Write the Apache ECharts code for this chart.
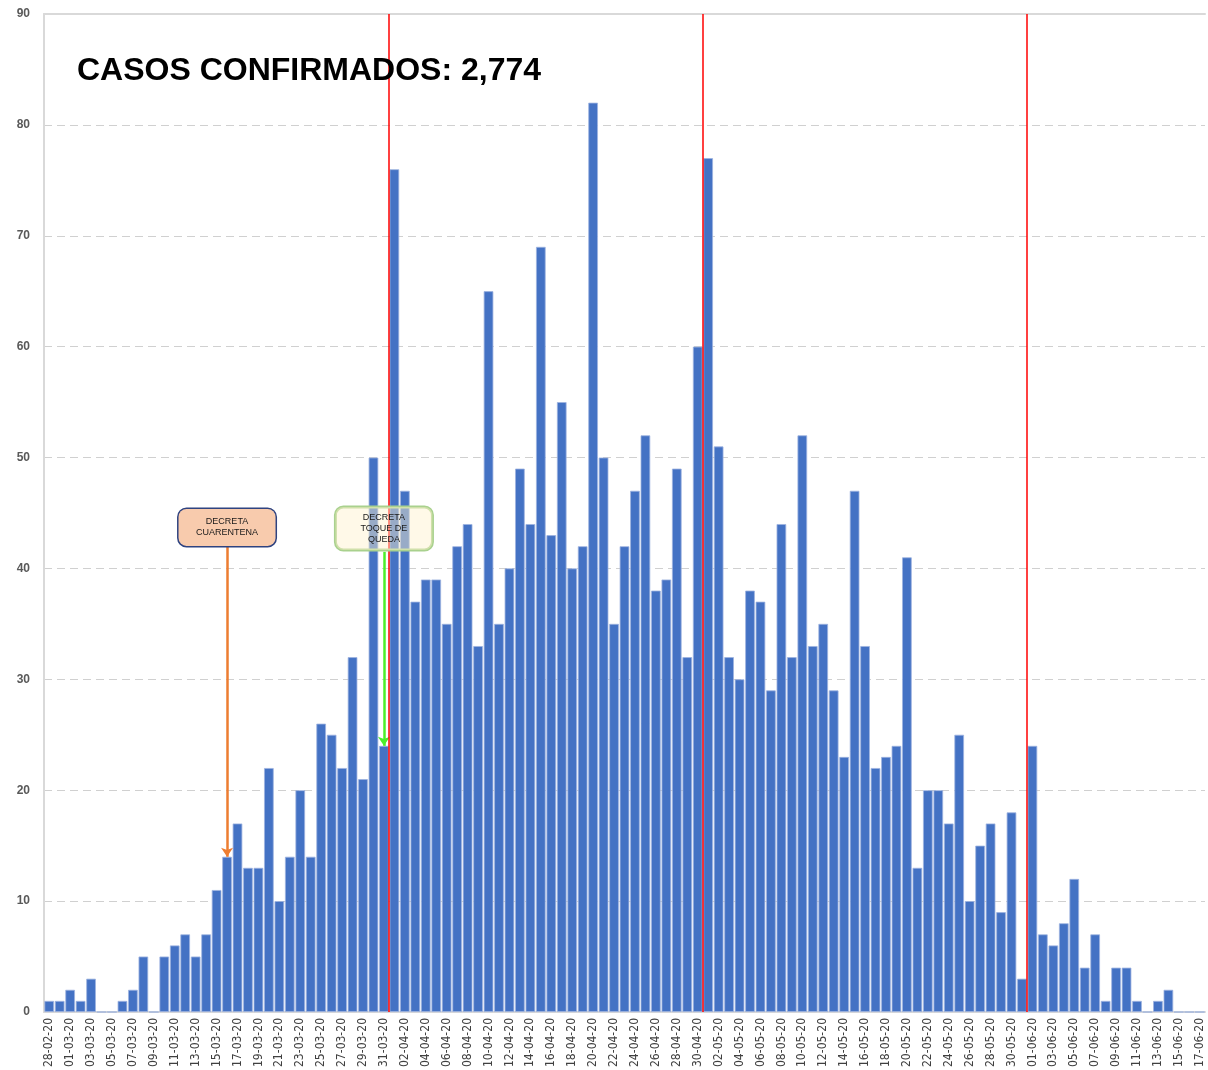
<!DOCTYPE html>
<html>
<head>
<meta charset="utf-8">
<script src="https://cdn.jsdelivr.net/npm/echarts@6/dist/echarts.min.js"></script>
<style>
    html, body { margin: 0; padding: 0; background: #fff; }
    #main { width: 1208px; height: 1070px; }
</style>
</head>
<body>
<div id="main"></div>
<script type="text/javascript">
    // fechas (28-02-20 .. 17-06-20)
    const fechas = [
        '28-02-20','29-02-20',
        '01-03-20','02-03-20','03-03-20','04-03-20','05-03-20','06-03-20','07-03-20','08-03-20','09-03-20','10-03-20',
        '11-03-20','12-03-20','13-03-20','14-03-20','15-03-20','16-03-20','17-03-20','18-03-20','19-03-20','20-03-20',
        '21-03-20','22-03-20','23-03-20','24-03-20','25-03-20','26-03-20','27-03-20','28-03-20','29-03-20','30-03-20','31-03-20',
        '01-04-20','02-04-20','03-04-20','04-04-20','05-04-20','06-04-20','07-04-20','08-04-20','09-04-20','10-04-20',
        '11-04-20','12-04-20','13-04-20','14-04-20','15-04-20','16-04-20','17-04-20','18-04-20','19-04-20','20-04-20',
        '21-04-20','22-04-20','23-04-20','24-04-20','25-04-20','26-04-20','27-04-20','28-04-20','29-04-20','30-04-20',
        '01-05-20','02-05-20','03-05-20','04-05-20','05-05-20','06-05-20','07-05-20','08-05-20','09-05-20','10-05-20',
        '11-05-20','12-05-20','13-05-20','14-05-20','15-05-20','16-05-20','17-05-20','18-05-20','19-05-20','20-05-20',
        '21-05-20','22-05-20','23-05-20','24-05-20','25-05-20','26-05-20','27-05-20','28-05-20','29-05-20','30-05-20','31-05-20',
        '01-06-20','02-06-20','03-06-20','04-06-20','05-06-20','06-06-20','07-06-20','08-06-20','09-06-20','10-06-20',
        '11-06-20','12-06-20','13-06-20','14-06-20','15-06-20','16-06-20','17-06-20'
    ];

    // casos confirmados por dia
    const casos = [
        1, 1,
        2, 1, 3, 0, 0, 1, 2, 5, 0, 5,
        6, 7, 5, 7, 11, 14, 17, 13, 13, 22,
        10, 14, 20, 14, 26, 25, 22, 32, 21, 50, 24,
        76, 47, 37, 39, 39, 35, 42, 44, 33, 65,
        35, 40, 49, 44, 69, 43, 55, 40, 42, 82,
        50, 35, 42, 47, 52, 38, 39, 49, 32, 60,
        77, 51, 32, 30, 38, 37, 29, 44, 32, 52,
        33, 35, 29, 23, 47, 33, 22, 23, 24, 41,
        13, 20, 20, 17, 25, 10, 15, 17, 9, 18, 3,
        24, 7, 6, 8, 12, 4, 7, 1, 4, 4,
        1, 0, 1, 2, 0, 0, 0
    ];

    const yTicks = [0, 10, 20, 30, 40, 50, 60, 70, 80, 90];
    const tituloTexto = 'CASOS CONFIRMADOS: 2,774';

    // anotaciones: fecha, texto
    const decretoCuarentena = { fecha: '16-03-20', texto: 'DECRETA\nCUARENTENA' };
    const decretoToque = { fecha: '31-03-20', texto: 'DECRETA\nTOQUE DE\nQUEDA' };

    // lineas rojas en el inicio de cada mes (abril, mayo, junio)
    const inicioMes = ['01-04-20', '01-05-20', '01-06-20'];
    const lineasMes = inicioMes.map(f => fechas.indexOf(f));

    let myChart = echarts.init(document.getElementById('main'));

    // caja de texto redondeada para las anotaciones
    function cajaLabel(texto, fondo, borde, alto) {
        return {
            show: true,
            position: 'inside',
            formatter: texto,
            color: '#1a1a1a',
            fontSize: 9,
            lineHeight: 11,
            fontFamily: 'Liberation Sans, Arial, sans-serif',
            align: 'center',
            verticalAlign: 'middle',
            width: 97,
            padding: [(alto - texto.split('\n').length * 11) / 2, 0],
            backgroundColor: fondo,
            borderColor: borde,
            borderWidth: 1.5,
            borderRadius: 8
        };
    }

    let option = {
        animation: false,
        backgroundColor: '#ffffff',
        title: {
            text: tituloTexto,
            left: 72,
            top: 50,
            textStyle: {
                fontFamily: 'Liberation Sans, Arial, sans-serif',
                fontWeight: 'bold',
                fontSize: 32,
                color: '#000000'
            }
        },
        grid: {
            left: 44,
            right: 3,
            top: 14,
            bottom: 55
        },
        xAxis: [
            {
                type: 'category',
                data: fechas,
                axisLine: { lineStyle: { color: '#d9d9d9', width: 2 } },
                axisTick: { show: false },
                axisLabel: {
                    interval: 1,
                    rotate: 90,
                    margin: 6,
                    color: '#404040',
                    fontSize: 12,
                    fontFamily: 'Liberation Sans Narrow, DejaVu Sans Condensed, sans-serif'
                },
                splitLine: { show: false }
            },
            {
                // eje auxiliar para las lineas entre dias
                type: 'value',
                min: 0,
                max: fechas.length,
                position: 'top',
                axisLine: { show: true, onZero: false, lineStyle: { color: '#d9d9d9', width: 2 } },
                axisTick: { show: false },
                axisLabel: { show: false },
                splitLine: { show: false }
            }
        ],
        yAxis: {
            type: 'value',
            min: yTicks[0],
            max: yTicks[yTicks.length - 1],
            interval: 10,
            axisLine: { show: true, lineStyle: { color: '#d9d9d9', width: 2 } },
            axisTick: { show: false },
            axisLabel: {
                color: '#595959',
                fontWeight: 'bold',
                fontSize: 12,
                margin: 14,
                fontFamily: 'Liberation Sans, Arial, sans-serif'
            },
            splitLine: {
                lineStyle: { color: '#d0d0d0', type: [8, 5], width: 1.2 }
            }
        },
        series: [
            {
                name: 'Casos',
                type: 'bar',
                data: casos,
                barCategoryGap: '8%',
                itemStyle: {
                    color: '#4472c4',
                    borderColor: '#9db3e0',
                    borderWidth: 0.8
                },
                markLine: {
                    silent: true,
                    symbol: ['none', 'arrow'],
                    symbolSize: [9, 9],
                    label: { show: false },
                    data: [
                        [
                            { coord: [decretoCuarentena.fecha, 42], lineStyle: { color: '#ed7d31', width: 2.5, type: 'solid' } },
                            { coord: [decretoCuarentena.fecha, casos[fechas.indexOf(decretoCuarentena.fecha)]] }
                        ],
                        [
                            { coord: [decretoToque.fecha, 41.5], lineStyle: { color: '#4cee2a', width: 2.5, type: 'solid' } },
                            { coord: [decretoToque.fecha, casos[fechas.indexOf(decretoToque.fecha)]] }
                        ]
                    ]
                },
                markPoint: {
                    silent: true,
                    symbolSize: 0,
                    data: [
                        {
                            coord: [decretoCuarentena.fecha, 43.7],
                            symbol: 'circle',
                            label: cajaLabel(decretoCuarentena.texto, '#f8cbad', '#2f4380', 37)
                        },
                        {
                            coord: [decretoToque.fecha, 43.6],
                            symbol: 'circle',
                            label: cajaLabel(decretoToque.texto, 'rgba(255,242,204,0.45)', '#a9d18e', 43)
                        }
                    ]
                }
            },
            {
                // lineas rojas de cambio de mes
                name: 'meses',
                type: 'line',
                xAxisIndex: 1,
                data: [],
                symbol: 'none',
                markLine: {
                    silent: true,
                    symbol: ['none', 'none'],
                    label: { show: false },
                    lineStyle: { color: '#ff0000', width: 1.5, type: 'solid' },
                    data: lineasMes.map(i => ({ xAxis: i }))
                }
            }
        ]
    };
    myChart.setOption(option);
</script>
</body>
</html>
